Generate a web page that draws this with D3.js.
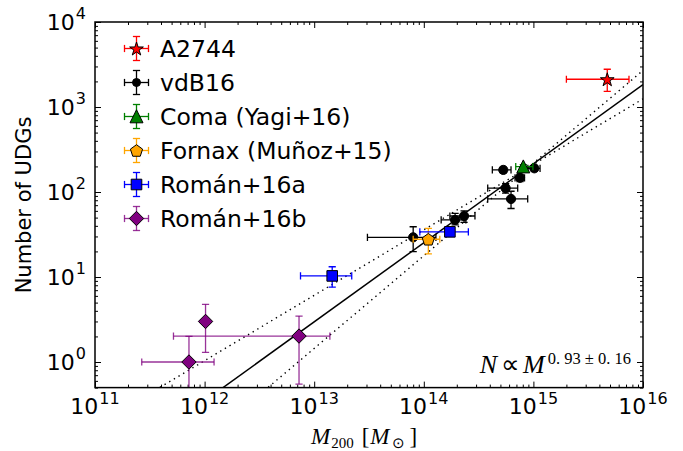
<!DOCTYPE html>
<html><head><meta charset="utf-8">
<script src="https://cdn.jsdelivr.net/npm/d3@7"></script>
<style>body{margin:0;background:#fff} svg{display:block}</style>
</head><body><svg id="c" width="683" height="451"></svg>
<script>
// rows: [M, Mlo, Mhi, N, Nlo, Nhi]
const a2744 = [[4.72e15, 2.0e15, 7.45e15, 2120, 1530, 2780]];
const vdB16 = [
  [8.0e13, 3.06e13, 1.29e14, 29.3, 19.9, 39],
  [1.93e14, 1.44e14, 2.42e14, 46.9, 41, 56],
  [2.33e14, 1.73e14, 2.93e14, 52.2, 44, 60],
  [5.31e14, 4.22e14, 6.25e14, 182, 168, 196],
  [5.58e14, 3.83e14, 7.19e14, 111, 97, 125],
  [6.25e14, 3.83e14, 8.87e14, 82.8, 64, 102],
  [7.55e14, 6.8e14, 8.3e14, 147, 133, 161],
  [1.02e15, 8.9e14, 1.15e15, 190, 175, 205]];
const coma = [[8.09e14, 6.9e14, 9.9e14, 199, 188, 210]];
const fornax = [[1.1e14, 0.8e14, 1.4e14, 27.8, 18.7, 37.4]];
const roman16a = [[1.73e14, 9.2e13, 2.55e14, 34, 30, 38], [1.46e13, 7.5e12, 2.2e13, 10.3, 7.6, 13.2]];
const roman16b = [[7.2e11, 2.67e11, 1.22e12, 1.0, 0.01, 2.0], [1.02e12, 1.02e12, 1.02e12, 3.0, 1.3, 4.77], [7.27e12, 5.2e11, 1.39e13, 2.02, 0.55, 3.47]];

const legendLabels = ["A2744", "vdB16", "Coma (Yagi+16)", "Fornax (Muñoz+15)", "Román+16a", "Román+16b"];
const seriesColors = ["#ff0000", "#000000", "#008000", "#ffa500", "#0000ff", "#800080"];
const seriesMarkers = ["star", "circle", "triangle", "pentagon", "square", "diamond"];

const fitSlope = 0.93, fitSlopeErr = 0.16, pivotM = 9.0e14, pivotN = 195;
const xExponents = [11, 12, 13, 14, 15, 16];
const yExponents = [0, 1, 2, 3, 4];

const W = 683, H = 451;
const L = 95, R = 643, T = 22, B = 387.6;
const x = d3.scaleLog().domain([1e11, 1e16]).range([L, R]);
const y = d3.scaleLog().domain([0.5, 1e4]).range([B, T]);
const svg = d3.select("#c");

svg.append("defs").append("clipPath").attr("id", "clip")
  .append("rect").attr("x", L).attr("y", T).attr("width", R - L).attr("height", B - T);

// ticks
const xMaj = xExponents.map(e => Math.pow(10, e));
const yMaj = yExponents.map(e => Math.pow(10, e));
const isMaj = v => Math.abs(Math.log10(v) - Math.round(Math.log10(v))) < 1e-9;
const xMin = x.ticks().filter(v => !isMaj(v));
const yMin = y.ticks().filter(v => !isMaj(v));
function addAxis(gen, tr, vals, size) {
  const g = svg.append("g").attr("transform", tr)
    .call(gen.tickValues(vals).tickSize(-size).tickFormat(""));
  g.select(".domain").remove();
  g.selectAll(".tick line").attr("stroke", "#000").attr("stroke-width", 1);
}
addAxis(d3.axisBottom(x), `translate(0,${B})`, xMaj, 6);
addAxis(d3.axisBottom(x), `translate(0,${B})`, xMin, 3);
addAxis(d3.axisTop(x), `translate(0,${T})`, xMaj, 6);
addAxis(d3.axisTop(x), `translate(0,${T})`, xMin, 3);
addAxis(d3.axisLeft(y), `translate(${L},0)`, yMaj, 6);
addAxis(d3.axisLeft(y), `translate(${L},0)`, yMin, 3);
addAxis(d3.axisRight(y), `translate(${R},0)`, yMaj, 6);
addAxis(d3.axisRight(y), `translate(${R},0)`, yMin, 3);

// tick labels
const font = "DejaVu Sans";
xExponents.forEach(e => {
  const t = svg.append("text").attr("x", x(Math.pow(10, e))).attr("y", 413.5)
    .attr("text-anchor", "middle").attr("font-family", font).attr("font-size", 22);
  t.append("tspan").text("10");
  t.append("tspan").attr("dy", -10).attr("dx", 1).attr("font-size", 16).text(e);
});
yExponents.forEach(e => {
  const t = svg.append("text").attr("x", 86).attr("y", y(Math.pow(10, e)) + 8)
    .attr("text-anchor", "end").attr("font-family", font).attr("font-size", 22);
  t.append("tspan").text("10");
  t.append("tspan").attr("dy", -11).attr("dx", 1).attr("font-size", 16).text(e);
});

// axis labels
svg.append("text").attr("transform", "translate(31,205) rotate(-90)")
  .attr("text-anchor", "middle").attr("font-family", font).attr("font-size", 21)
  .text("Number of UDGs");
const serif = "Liberation Serif";
const xl = svg.append("text").attr("x", 311).attr("y", 444.3)
  .attr("font-family", serif).attr("font-size", 23);
xl.append("tspan").attr("font-style", "italic").text("M");
xl.append("tspan").attr("font-size", 15).attr("dy", 4).attr("dx", 1).text("200");
xl.append("tspan").attr("dy", -4).attr("dx", 8).text("[");
xl.append("tspan").attr("dx", 1).attr("font-style", "italic").text("M");
xl.append("tspan").attr("font-size", 15).attr("dy", 4).attr("dx", 2).text("⊙");
xl.append("tspan").attr("dy", -4).attr("dx", 5).text("]");

// fit lines
const plot = svg.append("g").attr("clip-path", "url(#clip)");
const fitLine = b => [1e11, 1e16].map(m => [m, pivotN * Math.pow(m / pivotM, b)]);
const line = d3.line().x(d => x(d[0])).y(d => y(d[1]));
plot.append("path").attr("d", line(fitLine(fitSlope))).attr("stroke", "#000")
  .attr("stroke-width", 1.5).attr("fill", "none");
[fitSlope - fitSlopeErr, fitSlope + fitSlopeErr].forEach(b => {
  plot.append("path").attr("d", line(fitLine(b))).attr("stroke", "#000")
    .attr("stroke-width", 1.4).attr("stroke-dasharray", "1.4,4").attr("fill", "none");
});

// markers
function markerPath(kind) {
  const pts = [];
  if (kind === "star") {
    for (let i = 0; i < 10; i++) {
      const r = i % 2 ? 7.2 * 0.382 : 7.2, a = -Math.PI / 2 + i * Math.PI / 5;
      pts.push([r * Math.cos(a), r * Math.sin(a) + 0.7]);
    }
  } else if (kind === "pentagon") {
    for (let i = 0; i < 5; i++) {
      const a = -Math.PI / 2 + i * 2 * Math.PI / 5;
      pts.push([6.4 * Math.cos(a), 6.4 * Math.sin(a) + 0.6]);
    }
  } else if (kind === "triangle") {
    pts.push([0, -6.7], [-6.5, 6.3], [6.5, 6.3]);
  } else if (kind === "square") {
    pts.push([-5.3, -5.3], [5.3, -5.3], [5.3, 5.3], [-5.3, 5.3]);
  } else if (kind === "diamond") {
    pts.push([0, -7.2], [7.2, 0], [0, 7.2], [-7.2, 0]);
  }
  return "M" + pts.map(p => p.join(",")).join("L") + "Z";
}
function drawMarker(g, kind, cx, cy, color, small) {
  if (kind === "circle") {
    g.append("circle").attr("cx", cx).attr("cy", cy).attr("r", small ? 4 : 4.6)
      .attr("fill", color).attr("stroke", "#000").attr("stroke-width", 1);
  } else {
    g.append("path").attr("d", markerPath(kind)).attr("transform", `translate(${cx},${cy})`)
      .attr("fill", color).attr("stroke", "#000").attr("stroke-width", 1);
  }
}
function errLine(g, x1, y1, x2, y2, color, op) {
  g.append("line").attr("x1", x1).attr("y1", y1).attr("x2", x2).attr("y2", y2)
    .attr("stroke", color).attr("stroke-width", 1.3).attr("stroke-opacity", op);
}
const cap = 3.6;
const allSeries = [a2744, vdB16, coma, fornax, roman16a, roman16b];
allSeries.forEach((rows, si) => {
  const col = seriesColors[si], op = si === 5 ? 0.8 : 1;
  const g = plot.append("g");
  rows.forEach(r => {
    const [M, Mlo, Mhi, N, Nlo, Nhi] = r;
    const cx = x(M), cy = y(N);
    if (Mhi > Mlo) {
      errLine(g, x(Mlo), cy, x(Mhi), cy, col, op);
      errLine(g, x(Mlo), cy - cap, x(Mlo), cy + cap, col, op);
      errLine(g, x(Mhi), cy - cap, x(Mhi), cy + cap, col, op);
    }
    errLine(g, cx, y(Nlo), cx, y(Nhi), col, op);
    errLine(g, cx - cap, y(Nlo), cx + cap, y(Nlo), col, op);
    errLine(g, cx - cap, y(Nhi), cx + cap, y(Nhi), col, op);
  });
  rows.forEach(r => drawMarker(g, seriesMarkers[si], x(r[0]), y(r[3]), col, false));
});

// legend
const lg = svg.append("g");
legendLabels.forEach((lab, i) => {
  const cy = 48.5 + i * 34, cx = 136.5, col = seriesColors[i], op = i === 5 ? 0.8 : 1;
  errLine(lg, cx - 12, cy, cx + 12, cy, col, op);
  errLine(lg, cx - 12, cy - cap, cx - 12, cy + cap, col, op);
  errLine(lg, cx + 12, cy - cap, cx + 12, cy + cap, col, op);
  errLine(lg, cx, cy - 12, cx, cy + 12, col, op);
  errLine(lg, cx - cap, cy - 12, cx + cap, cy - 12, col, op);
  errLine(lg, cx - cap, cy + 12, cx + cap, cy + 12, col, op);
  drawMarker(lg, seriesMarkers[i], cx, cy, col, true);
  lg.append("text").attr("x", 160).attr("y", cy + 8.5).attr("font-family", font)
    .attr("font-size", 23.5).text(lab);
});

// annotation
const an = svg.append("text").attr("x", 631).attr("y", 373).attr("text-anchor", "end")
  .attr("font-family", serif).attr("font-size", 26);
an.append("tspan").attr("font-style", "italic").text("N");
an.append("tspan").attr("dx", 4).text("∝");
an.append("tspan").attr("dx", 3).attr("font-style", "italic").text("M");
an.append("tspan").attr("dy", -9).attr("dx", 3).attr("font-size", 16.5).text("0. 93 ± 0. 16");

// frame
svg.append("rect").attr("x", L).attr("y", T).attr("width", R - L).attr("height", B - T)
  .attr("fill", "none").attr("stroke", "#000").attr("stroke-width", 1.5);
</script></body></html>
